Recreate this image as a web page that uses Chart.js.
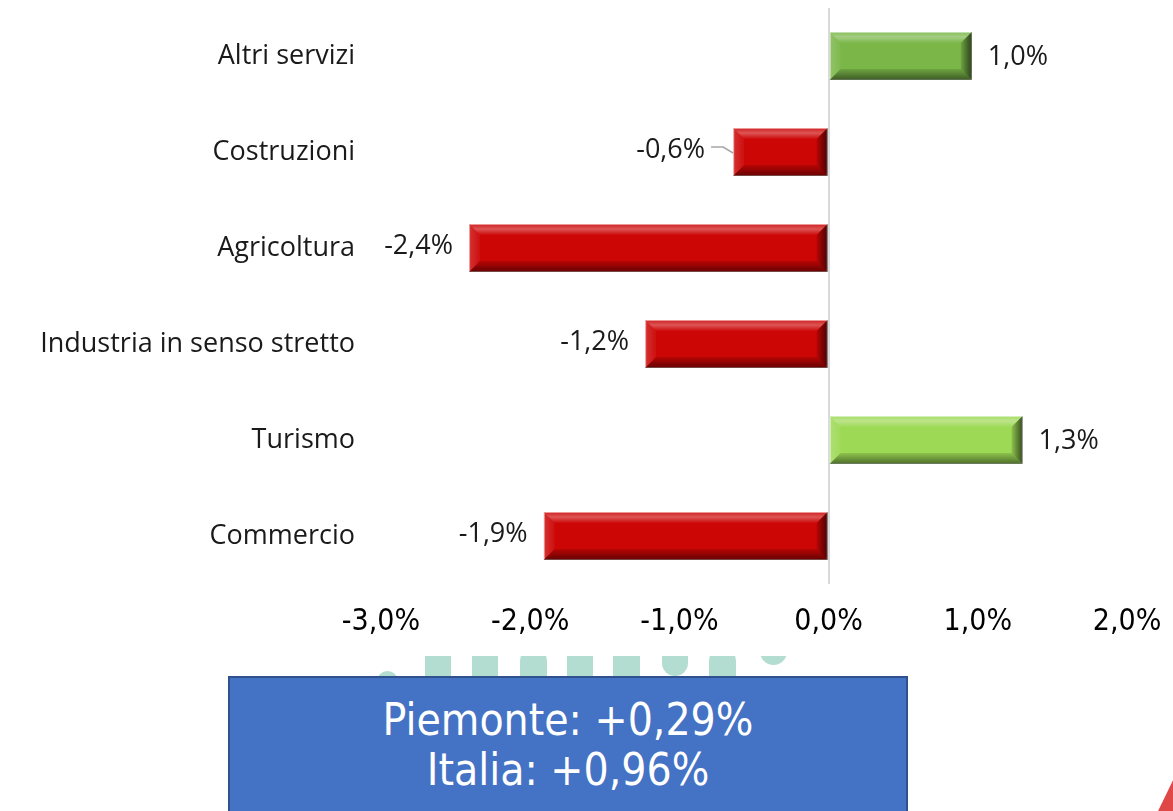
<!DOCTYPE html>
<html lang="it">
<head>
<meta charset="utf-8">
<title>Variazione occupati per settore</title>
<script src="https://cdn.jsdelivr.net/npm/chart.js@4.4.1/dist/chart.umd.min.js"></script>
<style>
  html, body { margin: 0; padding: 0; background: #fff; }
  body { width: 1173px; height: 811px; overflow: hidden; position: relative; }
  #wrap { position: absolute; left: 0; top: 0; width: 1173px; height: 811px; z-index: 2; }
  #logo { position: absolute; left: 360px; top: 656px; width: 450px; height: 40px; overflow: hidden; z-index: 1; }
  .mark { position: absolute; background: #b4ddd2; }
  #corner { position: absolute; left: 1150px; top: 770px; width: 23px; height: 41px;
            background: #e04848; clip-path: polygon(100% 25%, 100% 100%, 35% 100%); z-index: 1; }
  #summary { position: absolute; left: 228px; top: 676px; width: 676px; height: 150px;
             background: #4472c4; border: 2px solid #2f528f; z-index: 3;
             color: #fff; font-family: "DejaVu Sans Condensed", "DejaVu Sans", sans-serif;
             font-size: 44px; text-align: center; }
  #summary div { position: absolute; left: 0; right: 0; line-height: 50px; }
</style>
</head>
<body>
<!-- logo strip peeking out behind the summary box -->
<div id="logo">
  <div class="mark" style="left:17px; top:15px; width:21px; height:21px; border-radius:50%;"></div>
  <div class="mark" style="left:65px; top:0; width:26px; height:30px;"></div>
  <div class="mark" style="left:112px; top:0; width:26px; height:30px;"></div>
  <div class="mark" style="left:160px; top:-8px; width:27px; height:38px; border-radius:13px 13px 0 0;"></div>
  <div class="mark" style="left:207px; top:0; width:26px; height:30px;"></div>
  <div class="mark" style="left:253px; top:0; width:27px; height:30px;"></div>
  <div class="mark" style="left:302px; top:-10px; width:26px; height:30px; border-radius:0 0 13px 13px;"></div>
  <div class="mark" style="left:349px; top:-8px; width:27px; height:38px; border-radius:13px 13px 0 0;"></div>
  <div class="mark" style="left:400px; top:-16px; width:27px; height:25px; border-radius:0 0 14px 14px;"></div>
</div>
<div id="corner"></div>

<div id="wrap"><canvas id="chart" width="1173" height="811"></canvas></div>

<div id="summary">
  <div style="top:17px;">Piemonte: +0,29%</div>
  <div style="top:67px;">Italia: +0,96%</div>
</div>

<script>
const categories = ['Altri servizi', 'Costruzioni', 'Agricoltura', 'Industria in senso stretto', 'Turismo', 'Commercio'];
const changes = [0.96, -0.64, -2.41, -1.23, 1.30, -1.91];
const xTicks = [-3, -2, -1, 0, 1, 2];

const faceColors = ['#7ab648', '#cc0505', '#cc0505', '#cc0505', '#9dd955', '#cc0505'];
const edgeColors = ['#b9dba0', '#e88a8a', '#e88a8a', '#e88a8a', '#cdeeb0', '#e88a8a'];

function pct(v, digits) {
  return v.toFixed(digits).replace('.', ',') + '%';
}

// bevelled look for each bar: light top/left, dark bottom/right
const bevelPlugin = {
  id: 'bevel',
  afterDatasetsDraw(chart) {
    const ctx = chart.ctx;
    const b = 11;
    chart.getDatasetMeta(0).data.forEach(bar => {
      const p = bar.getProps(['x', 'y', 'base', 'height'], true);
      const L = Math.min(p.x, p.base), R = Math.max(p.x, p.base);
      const T = p.y - p.height / 2, B = p.y + p.height / 2;
      const poly = (pts, fill) => {
        ctx.beginPath();
        pts.forEach(([x, y], i) => (i ? ctx.lineTo(x, y) : ctx.moveTo(x, y)));
        ctx.closePath();
        ctx.fillStyle = fill;
        ctx.fill();
      };
      ctx.save();
      let g = ctx.createLinearGradient(0, T, 0, T + b);
      g.addColorStop(0, 'rgba(255,255,255,0.10)');
      g.addColorStop(0.45, 'rgba(255,255,255,0.32)');
      g.addColorStop(1, 'rgba(255,255,255,0.02)');
      poly([[L, T], [R, T], [R - b, T + b], [L + b, T + b]], g);

      g = ctx.createLinearGradient(0, B - b, 0, B);
      g.addColorStop(0, 'rgba(0,0,0,0.10)');
      g.addColorStop(1, 'rgba(0,0,0,0.50)');
      poly([[L, B], [R, B], [R - b, B - b], [L + b, B - b]], g);

      g = ctx.createLinearGradient(L, 0, L + b, 0);
      g.addColorStop(0, 'rgba(255,255,255,0.18)');
      g.addColorStop(1, 'rgba(255,255,255,0.04)');
      poly([[L, T], [L + b, T + b], [L + b, B - b], [L, B]], g);

      g = ctx.createLinearGradient(R - b, 0, R, 0);
      g.addColorStop(0, 'rgba(0,0,0,0.10)');
      g.addColorStop(1, 'rgba(0,0,0,0.65)');
      poly([[R, T], [R - b, T + b], [R - b, B - b], [R, B]], g);
      ctx.restore();
    });
  }
};

// value labels beside the bar ends; Costruzioni sits a little further out with a leader
const leaderGap = { 'Costruzioni': 12 };
const valueLabelPlugin = {
  id: 'valueLabels',
  afterDatasetsDraw(chart) {
    const ctx = chart.ctx;
    ctx.save();
    ctx.font = '27px "Open Sans", sans-serif';
    ctx.fillStyle = '#1a1a1a';
    ctx.textBaseline = 'middle';
    chart.getDatasetMeta(0).data.forEach((bar, i) => {
      const v = changes[i];
      const extra = leaderGap[categories[i]] || 0;
      const gap = 16 + extra;
      if (v >= 0) {
        ctx.textAlign = 'left';
        ctx.fillText(pct(v, 1), bar.x + gap, bar.y + 1);
      } else {
        ctx.textAlign = 'right';
        ctx.fillText(pct(v, 1), bar.x - gap, bar.y - 2);
      }
      if (extra) {
        const x0 = bar.x - gap + 6;
        ctx.beginPath();
        ctx.moveTo(x0, bar.y - 5);
        ctx.lineTo(x0 + extra, bar.y - 5);
        ctx.lineTo(bar.x, bar.y + 1);
        ctx.strokeStyle = '#a6a6a6';
        ctx.lineWidth = 1.5;
        ctx.stroke();
      }
    });
    ctx.restore();
  }
};

new Chart(document.getElementById('chart'), {
  type: 'bar',
  data: {
    labels: categories,
    datasets: [{
      data: changes,
      backgroundColor: faceColors,
      borderColor: edgeColors,
      borderWidth: 1,
      borderSkipped: false,
      barPercentage: 0.5,
      categoryPercentage: 1
    }]
  },
  options: {
    indexAxis: 'y',
    responsive: false,
    animation: false,
    layout: { padding: { top: 8, right: 46, left: 0, bottom: 0 } },
    plugins: { legend: { display: false }, tooltip: { enabled: false } },
    scales: {
      x: {
        min: xTicks[0],
        max: xTicks[xTicks.length - 1],
        afterBuildTicks: scale => { scale.ticks = xTicks.map(value => ({ value })); },
        afterFit: scale => {
          scale.height = 227;
          scale.paddingLeft = 0;
          scale.paddingRight = 0;
        },
        border: { display: false },
        grid: {
          drawTicks: false,
          lineWidth: 2,
          color: c => (c.tick && c.tick.value === 0 ? '#d9d9d9' : 'rgba(0,0,0,0)')
        },
        ticks: {
          padding: 20,
          color: '#000',
          font: { family: '"DejaVu Sans Condensed", "DejaVu Sans", sans-serif', size: 30 },
          callback: v => pct(v, 1)
        }
      },
      y: {
        afterFit: scale => {
          scale.width = 381;
          scale.paddingTop = 0;
          scale.paddingBottom = 0;
        },
        border: { display: false },
        grid: { display: false, drawTicks: false },
        ticks: {
          padding: 26,
          color: '#1a1a1a',
          font: { family: '"Open Sans", sans-serif', size: 27 }
        }
      }
    }
  },
  plugins: [bevelPlugin, valueLabelPlugin]
});
</script>
</body>
</html>
